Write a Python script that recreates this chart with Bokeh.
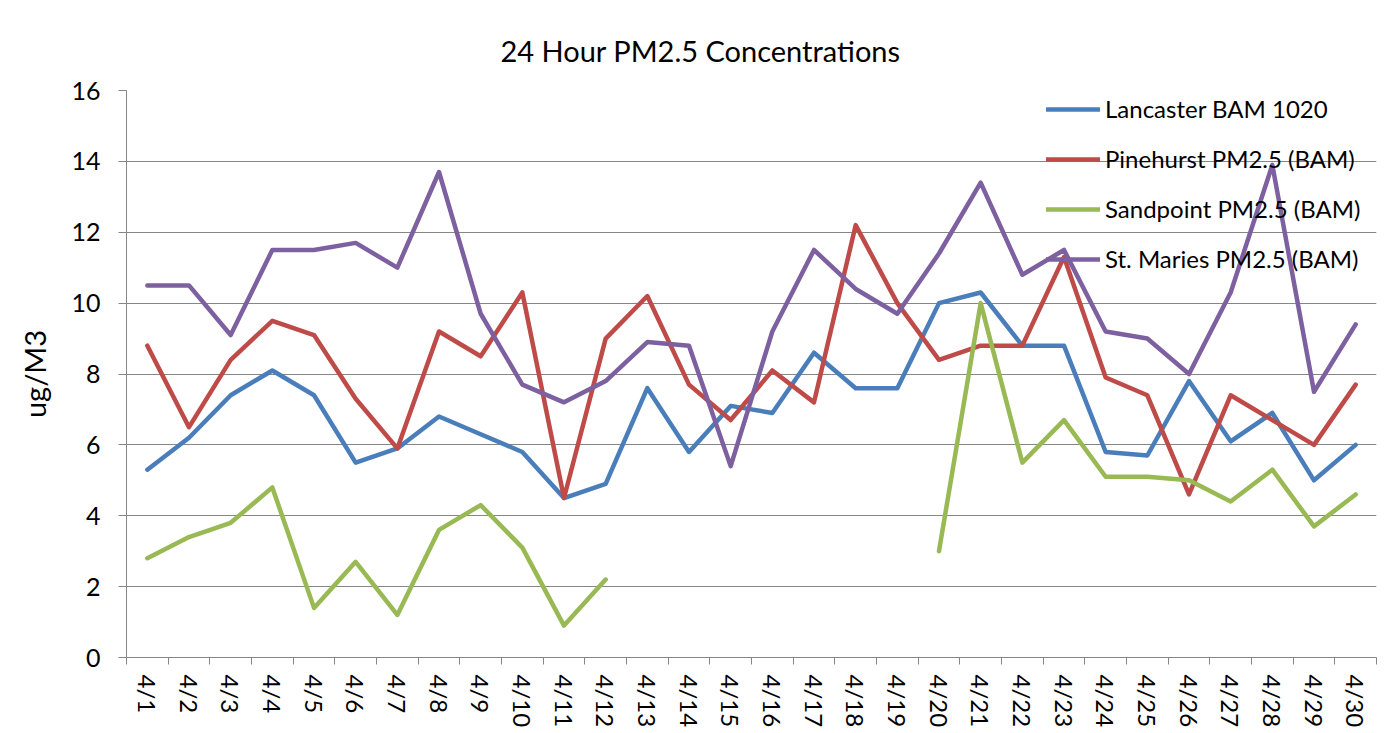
import numpy as np
from bokeh.plotting import figure
from bokeh.models import Range1d, FixedTicker, Legend, LegendItem, Title
from bokeh.embed import file_html
from bokeh.resources import INLINE

# ---- data ----
dates = ["4/1", "4/2", "4/3", "4/4", "4/5", "4/6", "4/7", "4/8", "4/9", "4/10",
         "4/11", "4/12", "4/13", "4/14", "4/15", "4/16", "4/17", "4/18", "4/19", "4/20",
         "4/21", "4/22", "4/23", "4/24", "4/25", "4/26", "4/27", "4/28", "4/29", "4/30"]

lancaster = [5.3, 6.2, 7.4, 8.1, 7.4, 5.5, 5.9, 6.8, 6.3, 5.8,
             4.5, 4.9, 7.6, 5.8, 7.1, 6.9, 8.6, 7.6, 7.6, 10.0,
             10.3, 8.8, 8.8, 5.8, 5.7, 7.8, 6.1, 6.9, 5.0, 6.0]

pinehurst = [8.8, 6.5, 8.4, 9.5, 9.1, 7.3, 5.9, 9.2, 8.5, 10.3,
             4.5, 9.0, 10.2, 7.7, 6.7, 8.1, 7.2, 12.2, 10.0, 8.4,
             8.8, 8.8, 11.3, 7.9, 7.4, 4.6, 7.4, 6.7, 6.0, 7.7]

sandpoint = [2.8, 3.4, 3.8, 4.8, 1.4, 2.7, 1.2, 3.6, 4.3, 3.1,
             0.9, 2.2, None, None, None, None, None, None, None, 3.0,
             10.0, 5.5, 6.7, 5.1, 5.1, 5.0, 4.4, 5.3, 3.7, 4.6]

st_maries = [10.5, 10.5, 9.1, 11.5, 11.5, 11.7, 11.0, 13.7, 9.7, 7.7,
             7.2, 7.8, 8.9, 8.8, 5.4, 9.2, 11.5, 10.4, 9.7, 11.4,
             13.4, 10.8, 11.5, 9.2, 9.0, 8.0, 10.3, 13.9, 7.5, 9.4]

series_names = ["Lancaster BAM 1020", "Pinehurst PM2.5 (BAM)",
                "Sandpoint PM2.5 (BAM)", "St. Maries PM2.5 (BAM)"]
series_values = [lancaster, pinehurst, sandpoint, st_maries]
series_colors = ["#4A7EBB", "#BE4B48", "#98B954", "#7D60A0"]

y_ticks = [0, 2, 4, 6, 8, 10, 12, 14, 16]

title_text = "24 Hour PM2.5 Concentrations"
y_label = "ug/M3"

FONT = "Lato"
GRAY = "#868686"

p = figure(width=1393, height=733, output_backend="svg", toolbar_location=None,
           x_range=Range1d(0.5, len(dates) + 0.5), y_range=Range1d(0, 16),
           min_border_left=126, min_border_right=17, min_border_top=90,
           min_border_bottom=76)
p.outline_line_color = None
p.background_fill_color = "white"
p.border_fill_color = "white"

p.title = Title(text=title_text, align="left", offset=374, standoff=45,
                text_font=FONT, text_font_size="29px", text_font_style="normal",
                text_color="black")

x = list(range(1, len(dates) + 1))

items = []
for name, vals, col in zip(series_names, series_values, series_colors):
    y = np.array([np.nan if v is None else v for v in vals], dtype=float)
    r = p.line(x, y, line_color=col, line_width=4.5, line_cap="round",
               line_join="round")
    items.append(LegendItem(label=name, renderers=[r]))

# x axis: labels at category centres, tick marks at category boundaries
xt = FixedTicker(ticks=x, minor_ticks=[i + 0.5 for i in range(len(dates) + 1)])
xa = p.xaxis[0]
xa.ticker = xt
xa.major_label_overrides = {i: d for i, d in zip(x, dates)}
xa.major_tick_line_color = None
xa.major_tick_out = 0
xa.major_tick_in = 0
xa.minor_tick_out = 7
xa.minor_tick_in = 0
xa.minor_tick_line_color = GRAY
xa.axis_line_color = GRAY
xa.major_label_orientation = "vertical"
xa.major_label_standoff = 10
xa.major_label_text_font = FONT
xa.major_label_text_font_size = "24px"
xa.major_label_text_color = "black"

ya = p.yaxis[0]
ya.ticker = FixedTicker(ticks=y_ticks)
ya.major_tick_out = 8
ya.major_tick_in = 0
ya.minor_tick_line_color = None
ya.major_tick_line_color = GRAY
ya.axis_line_color = GRAY
ya.major_label_standoff = 18
ya.major_label_text_font = FONT
ya.major_label_text_font_size = "25px"
ya.major_label_text_color = "black"
ya.axis_label = y_label
ya.axis_label_text_font = FONT
ya.axis_label_text_font_size = "29px"
ya.axis_label_text_font_style = "normal"
ya.axis_label_text_color = "black"
ya.axis_label_standoff = 16

p.xgrid.visible = False
p.ygrid.ticker = FixedTicker(ticks=y_ticks)
p.ygrid.grid_line_color = GRAY
p.ygrid.grid_line_width = 1

legend = Legend(items=items, location=(920, 384), border_line_color=None,
                background_fill_alpha=0, padding=0, margin=0, spacing=21,
                glyph_height=28, glyph_width=54, label_height=28,
                label_standoff=5, label_text_font=FONT,
                label_text_font_size="24px", label_text_color="black")
p.add_layout(legend)

open("out.html", "w").write(file_html(p, INLINE))
